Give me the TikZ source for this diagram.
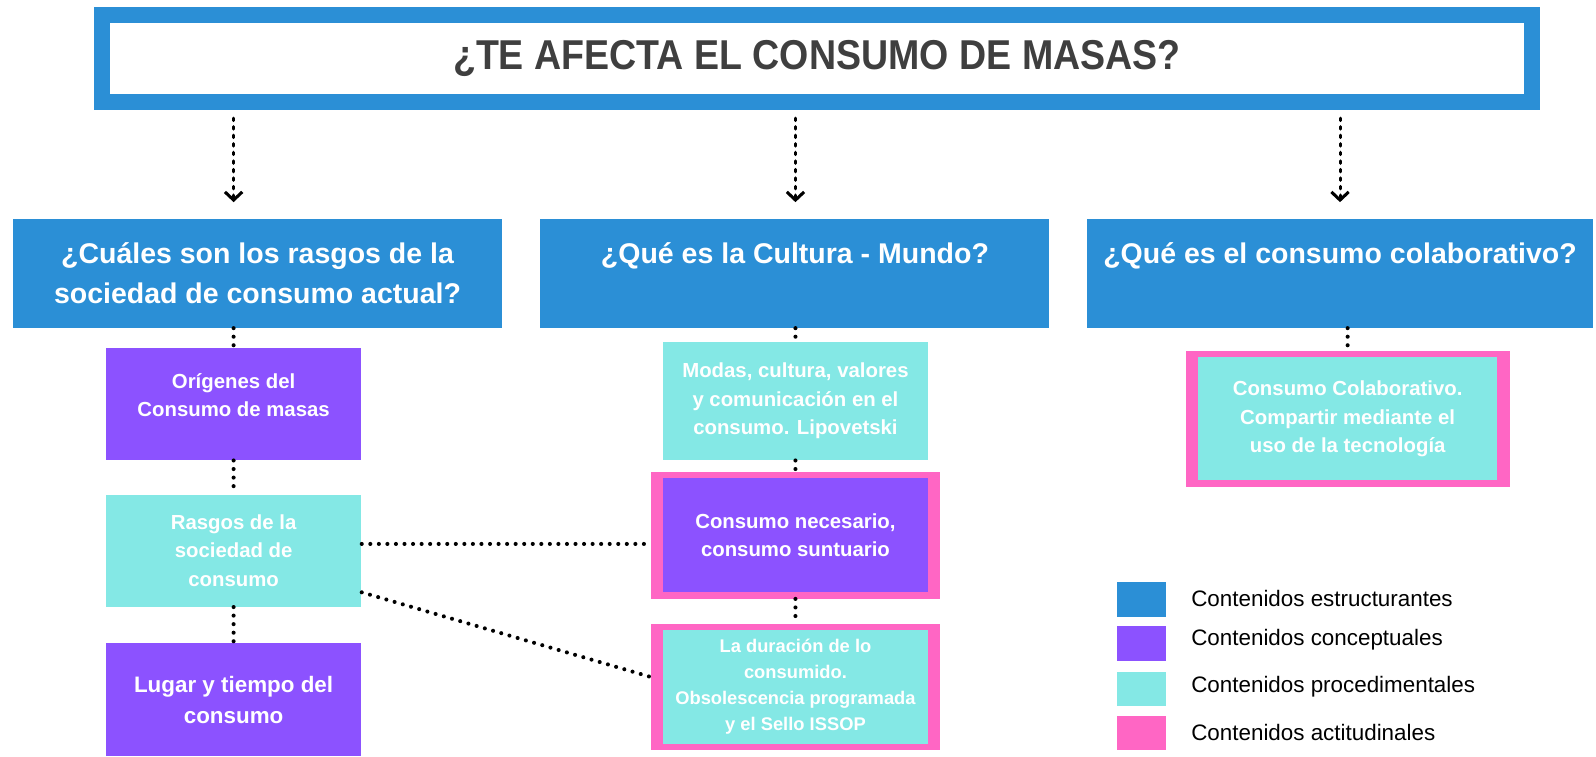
\documentclass[tikz,border=0pt]{standalone}
\usepackage{fontspec}
\setmainfont{Liberation Sans}
\newfontfamily\titlefont[FakeStretch=0.9]{Liberation Sans}
\usetikzlibrary{arrows.meta, positioning}
\definecolor{estruct}{HTML}{2B8FD6}
\definecolor{concept}{HTML}{8C52FF}
\definecolor{proced}{HTML}{84E8E5}
\definecolor{actitud}{HTML}{FF66C4}
\definecolor{titlegray}{HTML}{3F3F3F}

\begin{document}
\begin{tikzpicture}[x=0.5pt,y=-0.5pt,on grid,inner sep=0pt,
    every node/.style={align=center},
    actbox/.style={fill=actitud,text=white,font=\bfseries\fontsize{10}{14}\selectfont,
      minimum width=142pt,minimum height=62pt,
      path picture={\fill[#1] ([xshift=6pt,yshift=-3pt]path picture bounding box.north west)
        rectangle ([xshift=-6pt,yshift=3pt]path picture bounding box.south east);}}]
  \tikzstyle{titlebox}=[draw=estruct,line width=8pt,fill=white,text=titlegray,
    font=\titlefont\bfseries\fontsize{20.5}{24}\selectfont,minimum width=702.5pt,minimum height=42.5pt]
  \tikzstyle{header}=[fill=estruct,text=white,font=\bfseries\fontsize{14}{20}\selectfont,
    minimum width=240pt,minimum height=53.5pt]
  \tikzstyle{concbox}=[fill=concept,text=white,font=\bfseries\fontsize{10}{14}\selectfont,
    minimum width=125.5pt,minimum height=55pt]
  \tikzstyle{procbox}=[fill=proced,text=white,font=\bfseries\fontsize{10}{14}\selectfont,
    minimum width=125.5pt,minimum height=55pt]
  \tikzstyle{legsq}=[minimum width=24.5pt,minimum height=17pt]
  \tikzstyle{legtxt}=[anchor=west,font=\fontsize{11}{13}\selectfont]
  \tikzstyle{dotline}=[line width=2pt,dash pattern=on 0pt off 4.2pt,line cap=round]
  \tikzstyle{dasharrow}=[line width=1.5pt,dash pattern=on 1.2pt off 3pt,line cap=round,
    -{Straight Barb[length=4pt,width=8.5pt,line width=1.5pt]}]

  \useasboundingbox (0,0) rectangle (1568,743);

  % Title
  \node[titlebox] (q0) at (802.5,57.5) {¿TE AFECTA EL CONSUMO DE MASAS?};

  % Questions
  \node[header] (h1) at (253,268.5) {¿Cuáles son los rasgos de la\\sociedad de consumo actual?};
  \node[header, minimum width=250pt] (h2) at (781,268.5) {¿Qué es la Cultura - Mundo?\\\mbox{}};
  \node[header, minimum width=248.5pt] (h3) at (1316.5,268.5) {¿Qué es el consumo colaborativo?\\\mbox{}};

  % Column 1
  \node[concbox] (o1) at (229.5,397) {Orígenes del\\Consumo de masas\\[-5pt]\mbox{}};
  \node[procbox] (r1) [below=72pt of o1] {Rasgos de la\\sociedad de\\consumo};
  \node[concbox, minimum height=55.5pt, font=\bfseries\fontsize{11}{15.5}\selectfont] (l1) [below=73.25pt of r1] {Lugar y tiempo del\\consumo};

  % Column 2
  \node[procbox, minimum width=130.5pt, minimum height=58pt] (m2) at (781.5,394) {Modas, cultura, valores\\y comunicación en el\\consumo. Lipovetski};
  \node[actbox=concept] (n2) [below=66pt of m2] {Consumo necesario,\\consumo suntuario};
  \node[actbox=proced, font=\bfseries\fontsize{9}{12.75}\selectfont] (d2) [below=74.5pt of n2] {La duración de lo\\consumido.\\Obsolescencia programada\\y el Sello ISSOP};

  % Column 3
  \node[actbox=proced, minimum width=159pt, minimum height=66.5pt] (k3) at (1324,411.5) {Consumo Colaborativo.\\Compartir mediante el\\uso de la tecnología};

  % Legend
  \node[legsq, fill=estruct] (s1) at (1121.5,589) {};
  \node[legsq, fill=concept] (s2) at (1121.5,632) {};
  \node[legsq, fill=proced] (s3) at (1121.5,677) {};
  \node[legsq, fill=actitud] (s4) at (1121.5,720) {};
  \node[legtxt] (t1) at (1170,588) {Contenidos estructurantes};
  \node[legtxt] (t2) at (1170,628) {Contenidos conceptuales};
  \node[legtxt] (t3) at (1170,675) {Contenidos procedimentales};
  \node[legtxt] (t4) at (1170,720) {Contenidos actitudinales};

  \draw[dasharrow, shorten <=4pt, shorten >=8pt] (q0.south -| o1) -- (h1.north -| o1);
  \draw[dasharrow, shorten <=4pt, shorten >=8pt] (q0.south -| n2) -- (h2.north -| n2);
  \draw[dasharrow, shorten <=4pt, shorten >=8pt] (q0.south -| h3) -- (h3.north);

  \draw[dotline] (h1.south -| o1) -- (o1.north);
  \draw[dotline] (o1.south) -- (r1.north);
  \draw[dotline] (r1.south) -- (l1.north);
  \draw[dotline] (h2.south -| m2) -- (m2.north);
  \draw[dotline] (m2.south) -- (m2.south |- n2.north);
  \draw[dotline] (n2.south -| m2) -- (d2.north -| m2);
  \draw[dotline] (h3.south -| k3) -- (k3.north);
  \draw[dotline] (r1.3) -- (r1.3 -| n2.west);
  \draw[dotline] (r1.-18) -- (d2.176);
\end{tikzpicture}
\end{document}
